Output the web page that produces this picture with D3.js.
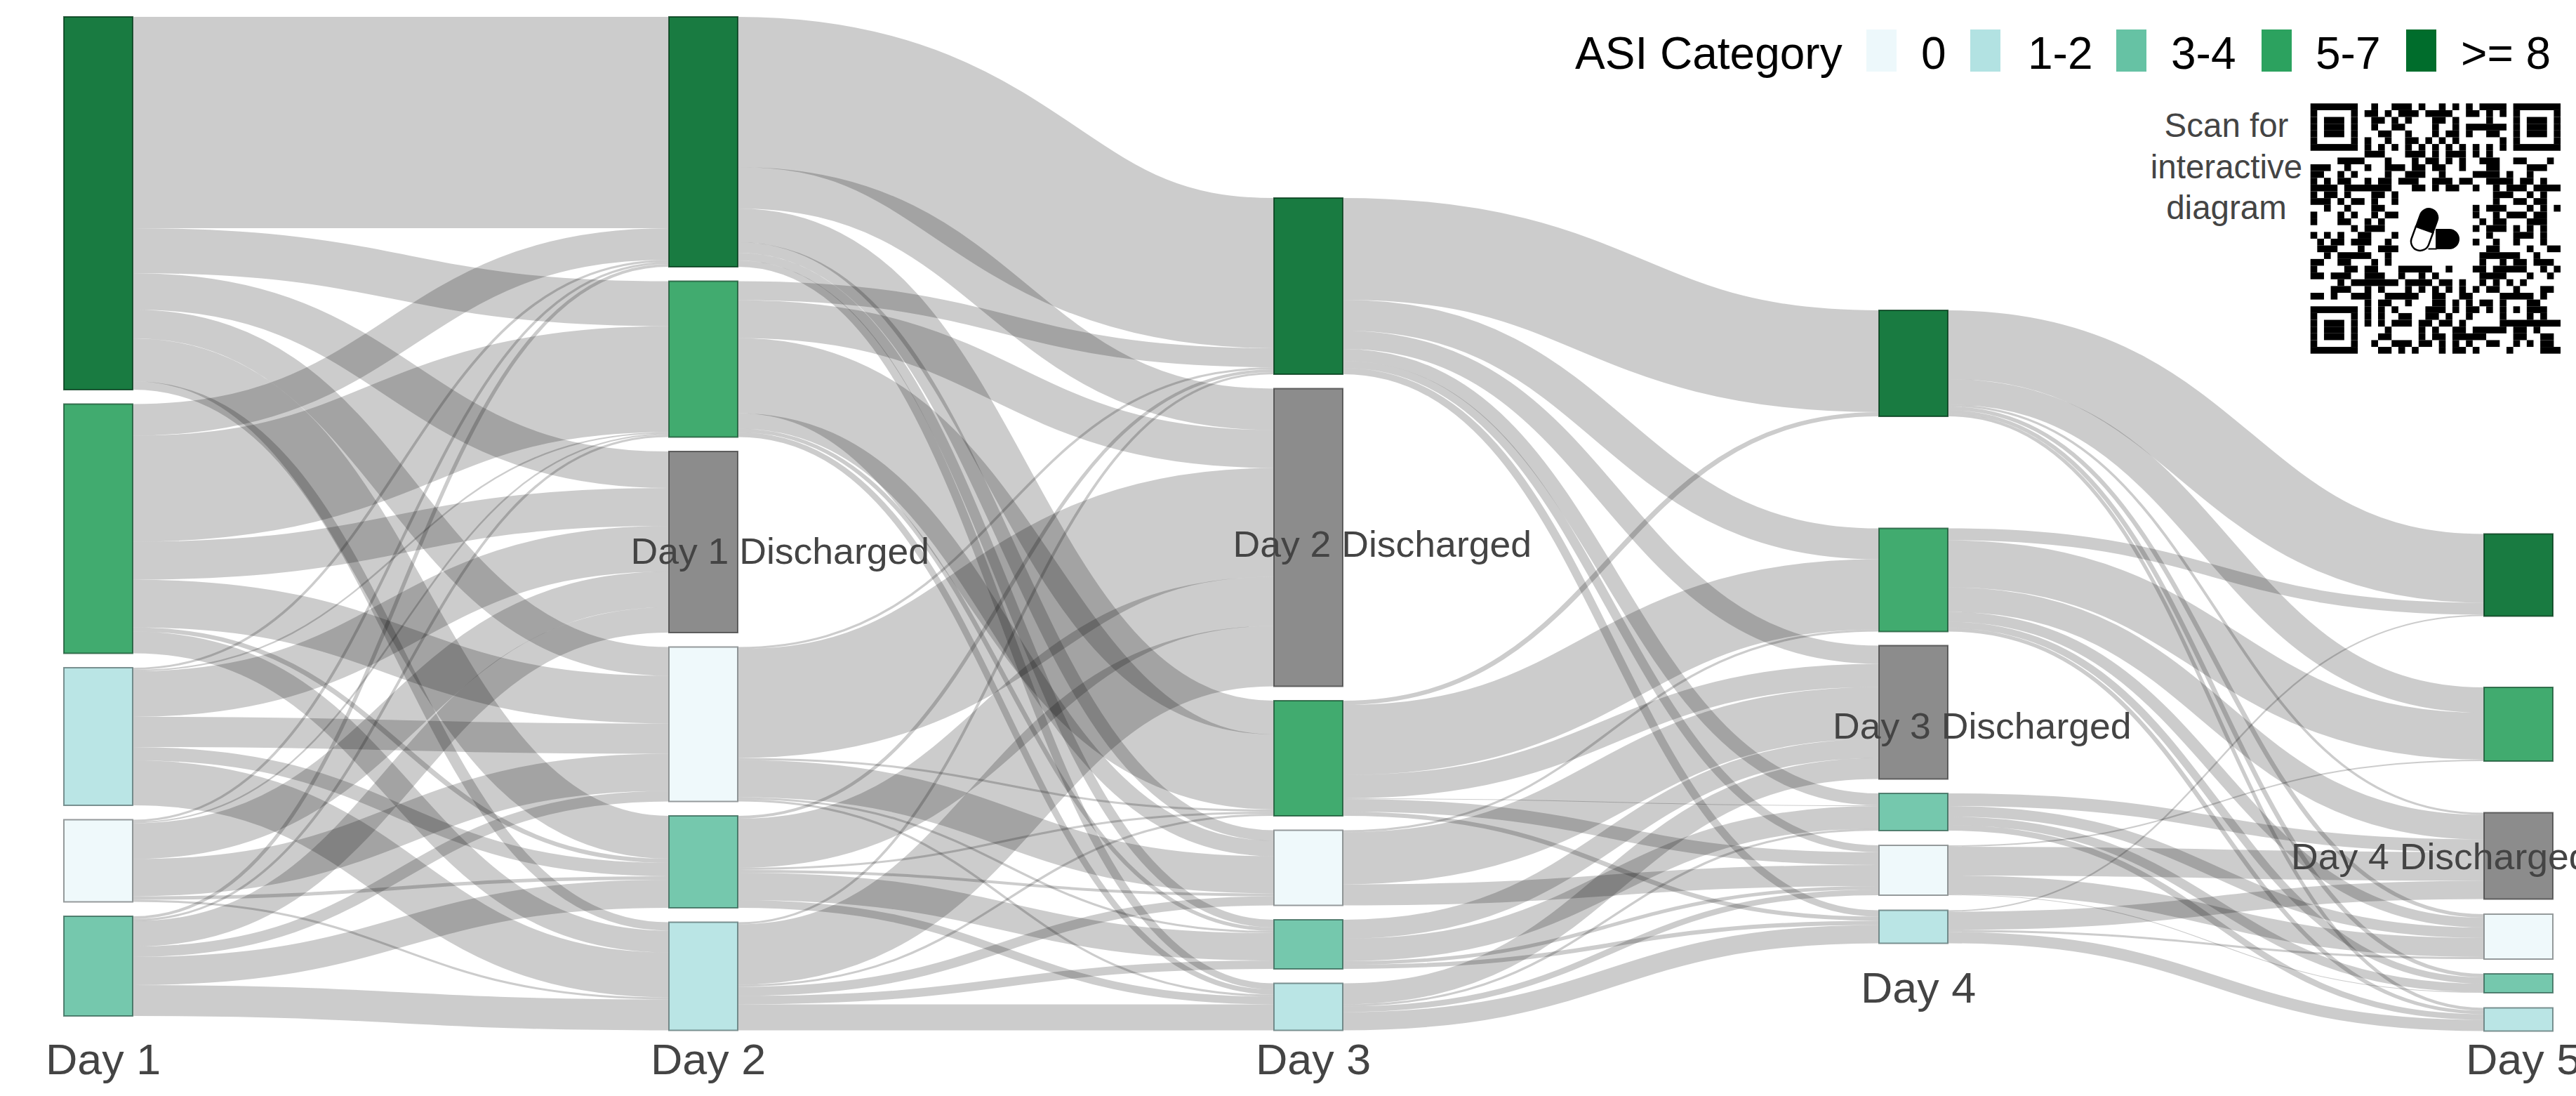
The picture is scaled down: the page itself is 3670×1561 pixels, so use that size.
<!DOCTYPE html>
<html>
<head>
<meta charset="utf-8">
<script src="https://cdn.jsdelivr.net/npm/d3@7"></script>
<style>
    html, body { margin: 0; padding: 0; background: #fff; overflow: hidden; }
    text { font-family: "Liberation Sans", Arial, sans-serif; }
</style>
</head>
<body>
<div id="chart"></div>
<script>
// categories and the order they stack in each day's column
const days = ['Day 1', 'Day 2', 'Day 3', 'Day 4', 'Day 5'];
const day1Order = ['>= 8', '5-7', '1-2', '0', '3-4'];
const day2Order = ['>= 8', '5-7', 'Discharged', '0', '3-4', '1-2'];
const day3Order = ['>= 8', 'Discharged', '5-7', '0', '3-4', '1-2'];
const day4Order = ['>= 8', '5-7', 'Discharged', '3-4', '0', '1-2'];
const day5Order = ['>= 8', '5-7', 'Discharged', '0', '3-4', '1-2'];

// flows between days: one row per non discharged node, one column per node of the next day
const flowsDay1to2 = [
    [301, 64, 52, 41, 61, 12],
    [45, 151, 54, 68, 6, 31],
    [3, 2, 65, 43, 19, 64],
    [3, 2, 51, 53, 5, 3],
    [4, 3, 36, 15, 40, 44]
];
const flowsDay2to3 = [
    [214, 59, 48, 15, 11, 9],
    [27, 54, 107, 22, 5, 7],
    [3, 155, 3, 53, 3, 3],
    [4, 70, 3, 4, 39, 11],
    [3, 86, 3, 13, 12, 37]
];
const flowsDay3to4 = [
    [145, 44, 26, 17, 10, 9],
    [6, 100, 33, 1, 18, 6],
    [0, 3, 74, 0, 30, 0],
    [0, 0, 27, 32, 5, 6],
    [0, 0, 30, 3, 8, 26]
];
const flowsDay4to5 = [
    [98, 36, 3, 5, 5, 4],
    [17, 67, 35, 14, 9, 5],
    [0, 0, 18, 15, 12, 8],
    [0, 2, 41, 27, 1, 0],
    [2, 0, 26, 3, 0, 16]
];

const legendTitle = 'ASI Category';
const legendLabels = ['0', '1-2', '3-4', '5-7', '>= 8'];
const legendColors = ['#edf8fb', '#b2e2e2', '#66c2a4', '#2ca25f', '#006d2c'];
const dischargedColor = '#7f7f7f';
const scanLines = ['Scan for', 'interactive', 'diagram'];

// black modules of the QR code, one string of column runs per row
const qrRows = [
    '0-6 9 12-14 16 19 21 23 25-28 30-36',
    '0 6 8-9 11 13-15 17-20 23-24 26 28 30 36',
    '0 2-4 6 9-10 12 14 18-19 21 26 30 32-34 36',
    '0 2-4 6 9 12-13 18 21 23-28 30 32-34 36',
    '0 2-4 6 10-11 14 18 20-21 23 26-27 30 32-34 36',
    '0 6 8 11 14-15 17 19 21 28 30 36',
    '0-6 8 10 12 14 16 18 20 22 24 26 28 30-36',
    '8-10 14-16 18 20-22 24 26',
    '4-7 11 15 17-18 20 22 25-27 30-31 35',
    '0-2 5 8 11-13 15-16 18-19 22 26-27 32-34',
    '0-1 4 6 11 14-16 19 24-27 29 32',
    '0 2 4-5 8 10-11 13-15 18-20 22-23 26-29 31-32 34',
    '0-3 5-11 15-16 18 20-21 24 27 29-31 33-36',
    '0 2-3 5 9-10 12 27-29 32 34',
    '0-2 4 6-7 9 12 27 30-31 33-34',
    '2 5 9-10 24 26-28 32 34 36',
    '0 4 6 9 11-12 24 27 29-31 33-34',
    '0 4-5 8 10 25 27-28 32-34',
    '6 8-10 24 26-28 30 32 34',
    '0 2 4 7-8 12 26 30-32 34',
    '1 3-4 6-8 11 24 27 30 34',
    '1-3 7 10-12 26-27 32 35-36',
    '2 4-8 11 25-30 33',
    '0-1 4-5 9 11 25 28 30-31 33-35',
    '0 5-6 8-9 13-17 20 24-25 27-31 34 36',
    '0-1 3-5 8-10 13 16 18 25-28 32 35',
    '4 6-12 14-17 19-20 22 25 27 29 31',
    '3-5 8 10 14 16 18 20 22 24 26-27 30 34-35',
    '0-1 3 6-8 11-15 18-19 22-23 28-32 34',
    '8 10-11 14 18-19 21 23 25-26 28 32-33',
    '0-6 8 10 12 17-19 21 23-24 26 28 30 32-34',
    '0 6 8 10 13-14 17-18 20 23 28 32 34',
    '0 2-4 6 8 10 12-14 16-17 19-20 22 28-36',
    '0 2-4 6 11 16 18 21-22 24-28 30-31 33',
    '0 2-4 6 10-11 16 18-19 21-25 30-31 34-35',
    '0 6 9 12-14 16-17 19 21 23 26-27 30 32 34-35',
    '0-6 10-11 13 15 19 21-22 24 29 34-36'
];

// layout
const width = 3670, height = 1561;
const nodeWidth = 98;
// the sankey looks drawn narrower and then stretched sideways, strokes and labels too
const stretchX = 1.4;
const labelStretchX = 1.03;
const columnTop = [24, 24, 282, 442, 760.5];
const columnGaps = [
    [20.5, 20.5, 20.5, 20.5],
    [20.5, 20.5, 20.5, 20.5, 20.5],
    [20.5, 20.5, 20.5, 20.5, 20.5],
    [159.5, 20, 20.5, 21, 21.5],
    [101.5, 73.5, 21.5, 21, 21.5]
];
const dayBaseline = [1530, 1530, 1530, 1428, 1530];
const dischargedDx = [0, -54.5, -58.5, -66, -275];
const dischargedBaseline = [0, 803, 793, 1052, 1238];

const orders = [day1Order, day2Order, day3Order, day4Order, day5Order];
const flows = [flowsDay1to2, flowsDay2to3, flowsDay3to4, flowsDay4to5];

const color = d3.scaleOrdinal()
    .domain(legendLabels.concat(['Discharged']))
    .range(legendColors.concat([dischargedColor]));

const x = d3.scalePoint().domain(days).range([91, 3539]);
const total = d3.sum(flowsDay1to2.flat());
const y = d3.scaleLinear().domain([0, total]).range([0, 1341]);

// build nodes column by column
const columns = orders.map((order, d) => {
    const nodes = order.map(name => ({ name: name, day: d, value: 0, inY: 0, outY: 0 }));
    const live = nodes.filter(n => n.name !== 'Discharged');
    if (d < flows.length) {
        live.forEach((n, r) => { n.value = d3.sum(flows[d][r]); });
    }
    if (d > 0) {
        nodes.forEach((n, c) => {
            n.value = Math.max(n.value, d3.sum(flows[d - 1], row => row[c]));
        });
    }
    let top = columnTop[d];
    nodes.forEach((n, i) => {
        n.y0 = top;
        n.y1 = top + y(n.value);
        n.inY = n.y0;
        n.outY = n.y0;
        top = n.y1 + (columnGaps[d][i] || 0);
    });
    return nodes;
});

const links = [];
flows.forEach((matrix, d) => {
    const sources = columns[d].filter(n => n.name !== 'Discharged');
    matrix.forEach((row, r) => {
        row.forEach((v, c) => {
            if (!v) return;
            const s = sources[r], t = columns[d + 1][c], h = y(v);
            links.push({
                source: [(x(days[d]) + nodeWidth) / stretchX, s.outY + h / 2],
                target: [x(days[d + 1]) / stretchX, t.inY + h / 2],
                h: h
            });
            s.outY += h;
            t.inY += h;
        });
    });
});

const svg = d3.select('#chart').append('svg')
    .attr('width', width)
    .attr('height', height)
    .style('display', 'block');

// links are thick strokes, so neighbours overlap where they get steep
svg.append('g')
    .attr('transform', `scale(${stretchX},1)`)
    .selectAll('path')
    .data(links)
    .join('path')
    .attr('d', d3.linkHorizontal())
    .attr('fill', 'none')
    .attr('stroke', '#000')
    .attr('stroke-opacity', 0.2)
    .attr('stroke-width', d => d.h);

svg.append('g').selectAll('rect')
    .data(columns.flat())
    .join('rect')
    .attr('x', d => x(days[d.day]))
    .attr('y', d => d.y0)
    .attr('width', nodeWidth)
    .attr('height', d => d.y1 - d.y0)
    .attr('fill', d => color(d.name))
    .attr('fill-opacity', 0.9)
    .attr('stroke', d => d3.rgb(color(d.name)).darker(2))
    .attr('stroke-opacity', 0.75)
    .attr('stroke-width', 2);

// discharged labels sit on top of the grey nodes
svg.append('g').selectAll('text')
    .data(columns.flat().filter(d => d.name === 'Discharged'))
    .join('text')
    .attr('transform', d => `translate(${x(days[d.day]) + dischargedDx[d.day]},${dischargedBaseline[d.day]}) scale(${labelStretchX},1)`)
    .attr('font-size', 52)
    .attr('fill', '#444')
    .text(d => `${days[d.day - 1]} Discharged`);

svg.append('g').selectAll('text')
    .data(days)
    .join('text')
    .attr('transform', (d, i) => `translate(${x(d) - 26},${dayBaseline[i]}) scale(${labelStretchX},1)`)
    .attr('font-size', 61)
    .attr('fill', '#444')
    .text(d => d);

// legend
const swatchX = [2659, 2807, 3015, 3222, 3428];
const legendTextX = [2737, 2889, 3093, 3299, 3506];
const legend = svg.append('g');
legend.append('text')
    .attr('x', 2244)
    .attr('y', 98)
    .attr('font-size', 64)
    .attr('fill', '#000')
    .text(legendTitle);
legend.selectAll('rect')
    .data(legendLabels)
    .join('rect')
    .attr('x', (d, i) => swatchX[i])
    .attr('y', 42)
    .attr('width', 43)
    .attr('height', 60)
    .attr('fill', d => color(d));
legend.selectAll('text.item')
    .data(legendLabels)
    .join('text')
    .attr('class', 'item')
    .attr('x', (d, i) => legendTextX[i])
    .attr('y', 98)
    .attr('font-size', 64)
    .attr('fill', '#000')
    .text(d => d);

svg.append('g').selectAll('text')
    .data(scanLines)
    .join('text')
    .attr('x', 3172)
    .attr('y', (d, i) => 195 + i * 58.5)
    .attr('text-anchor', 'middle')
    .attr('font-size', 47.5)
    .attr('fill', '#444')
    .text(d => d);

// QR code
const qrX = d3.scaleLinear().domain([0, 37]).range([3291.7, 3648]);
const qrY = d3.scaleLinear().domain([0, 37]).range([147.3, 503.7]);
const qrRuns = qrRows.flatMap((row, r) => row.split(' ').map(run => {
    const ends = run.split('-').map(Number);
    return { r: r, c0: ends[0], c1: ends[ends.length - 1] + 1 };
}));
svg.append('g').selectAll('rect')
    .data(qrRuns)
    .join('rect')
    .attr('x', d => qrX(d.c0))
    .attr('y', d => qrY(d.r))
    .attr('width', d => qrX(d.c1) - qrX(d.c0))
    .attr('height', d => qrY(d.r + 1) - qrY(d.r))
    .attr('fill', '#000');

// the pill logo in the middle of the code
const logo = svg.append('g').attr('transform', `translate(${qrX(18.05)},${qrY(18.5)})`);
const capsule = logo.append('g').attr('transform', 'translate(-11.4,1.5) rotate(20)');
capsule.append('path')
    .attr('d', 'M-13,0V-18A13,13 0 0 1 13,-18V0Z')
    .attr('fill', '#000')
    .attr('stroke', '#000')
    .attr('stroke-width', 2);
capsule.append('path')
    .attr('d', 'M-13,0V18A13,13 0 0 0 13,18V0Z')
    .attr('fill', '#fff')
    .attr('stroke', '#000')
    .attr('stroke-width', 2.5);
logo.append('path')
    .attr('d', 'M4.5,0.5H24A14.5,14.5 0 0 1 24,29.5H4.5Z')
    .attr('fill', '#000');
logo.append('path')
    .attr('d', 'M-6,29H6')
    .attr('stroke', '#000')
    .attr('stroke-width', 2);
</script>
</body>
</html>
